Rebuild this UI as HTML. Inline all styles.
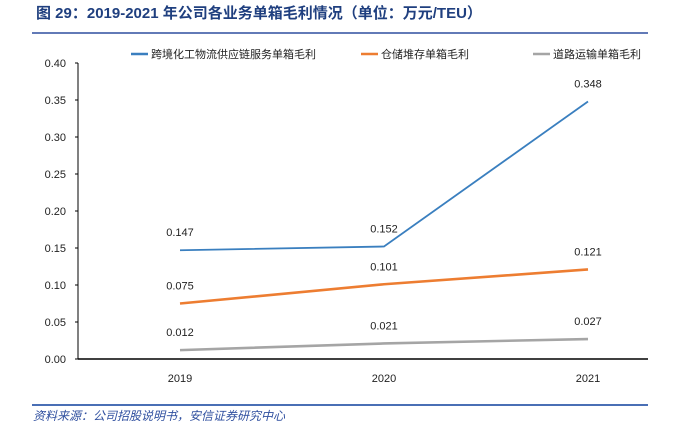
<!DOCTYPE html>
<html><head><meta charset="utf-8"><style>
body{margin:0;background:#fff;width:698px;height:425px;overflow:hidden}
text{font-family:"Liberation Sans","Noto Sans CJK SC",sans-serif}
</style></head><body>
<svg width="698" height="425">
<text x="36" y="18" font-size="15" font-weight="bold" fill="#1f3f7f">图 29：2019-2021 年公司各业务单箱毛利情况（单位：万元/TEU）</text>
<line x1="32" y1="33" x2="648" y2="33" stroke="#2f4f9f" stroke-width="1.5"/>
<g id="legend" font-size="11" fill="#222"></g>
<g id="axes"></g>
<g id="series"></g>
<line x1="32" y1="405" x2="648" y2="405" stroke="#4a6fb5" stroke-width="2"/>
<text x="33" y="420" font-size="12" font-style="italic" fill="#2f4f9f">资料来源：公司招股说明书，安信证券研究中心</text>
</svg>
<script>
const categories=["2019","2020","2021"];
const seriesNames=["跨境化工物流供应链服务单箱毛利","仓储堆存单箱毛利","道路运输单箱毛利"];
const crossBorder=[0.147,0.152,0.348];
const storage=[0.075,0.101,0.121];
const road=[0.012,0.021,0.027];
const yTicks=[0,0.05,0.10,0.15,0.20,0.25,0.30,0.35,0.40];
const colors=["#3a7fbf","#ed7d31","#a5a5a5"];
const NS="http://www.w3.org/2000/svg";
const xPos=i=>180+i*204;
const yPos=v=>359-v*740;
function mk(tag,attrs,parent,txt){const e=document.createElementNS(NS,tag);for(const k in attrs)e.setAttribute(k,attrs[k]);if(txt!=null)e.textContent=txt;parent.appendChild(e);return e;}
const axes=document.getElementById('axes');
let a=mk('line',{x1:78,y1:yPos(0.4),x2:78,y2:359,stroke:'#000'},axes);


a=mk('line',{x1:78,y1:359,x2:648,y2:359,stroke:'#000','stroke-width':1.5},axes);


yTicks.forEach(t=>{
 const tk=mk('line',{x1:75,y1:yPos(t),x2:78,y2:yPos(t),stroke:'#000'},axes);
 
 
 const l=mk('text',{x:66,y:yPos(t)+4,'font-size':11,'text-anchor':'end',fill:'#222'},axes,t.toFixed(2));
 
 
});
categories.forEach((c,i)=>{
 const l=mk('text',{x:xPos(i),y:382,'font-size':11,'text-anchor':'middle',fill:'#222'},axes,c);
 
 
});
const ser=document.getElementById('series');
[crossBorder,storage,road].forEach((d,s)=>{
 const p=mk('polyline',{points:d.map((v,i)=>xPos(i)+','+yPos(v)).join(' '),fill:'none',stroke:colors[s],'stroke-width':s==0?1.8:2.6},ser);
 
 
 d.forEach((v,i)=>{
  const t=mk('text',{x:xPos(i),y:yPos(v)-14,'font-size':11,'text-anchor':'middle',fill:'#222'},ser,v.toFixed(3));
  
  
 });
});
const lg=document.getElementById('legend');
const lx=[131,361,533];
seriesNames.forEach((n,s)=>{
 const g=mk('g',{},lg);
 
 
 mk('line',{x1:lx[s],y1:54,x2:lx[s]+17,y2:54,stroke:colors[s],'stroke-width':2.5},g);
 mk('text',{x:lx[s]+20,y:58},g,n);
});
</script>
</body></html>
